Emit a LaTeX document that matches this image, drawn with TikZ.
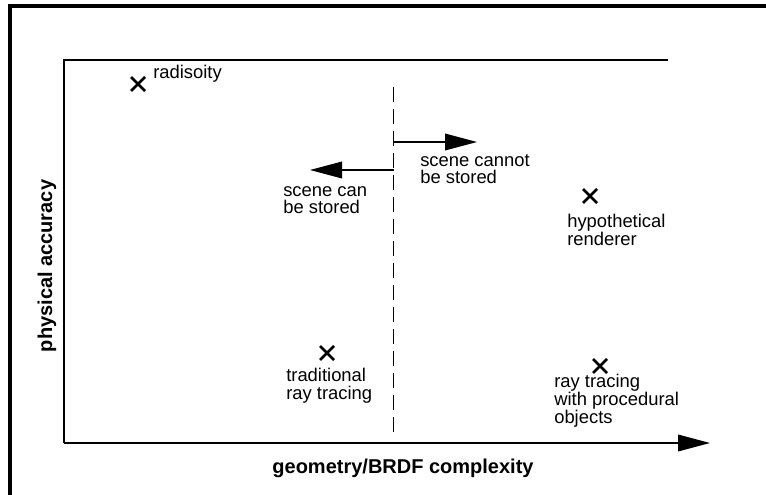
\documentclass[tikz,border=0pt]{standalone}
\usepackage{fontspec}
\setmainfont{Liberation Sans}
\usetikzlibrary{arrows.meta,shapes.misc}
\tikzset{
  lbl/.style={inner sep=0pt, anchor=base west, align=left, font=\fontsize{13.8}{13.2}\selectfont},
  axlbl/.style={inner sep=0pt, anchor=base, font=\fontsize{15}{15}\selectfont\bfseries},
  xmark/.style={cross out, draw, inner sep=0pt, minimum size=8.5pt, line width=2pt},
  frame/.style={line width=1.1pt},
  outerframe/.style={line width=2.6pt},
  bigarrow/.style={line width=1.1pt, -{Triangle[length=24pt,width=12.5pt]}},
  dashline/.style={line width=1.3pt, dash pattern=on 11pt off 5.5pt}
}
\begin{document}
\begin{tikzpicture}[x=0.75pt,y=-0.75pt]
\useasboundingbox (0,0) rectangle (766,495);
\clip (0,0) rectangle (766,495);
% outer frame (only left and top edges visible)
\coordinate (ob) at (10,500);
\coordinate (otl) at (10,6);
\coordinate (otr) at (770,6);
\draw[outerframe] (ob) -- (otl) -- (otr);
% inner frame and axis
\coordinate (itr) at (668,60);
\coordinate (itl) at (64,60);
\coordinate (ibl) at (64,443);
\coordinate (axend) at (710,443);
\draw[frame] (itr) -- (itl) -- (ibl);
\draw[bigarrow] (ibl) -- (axend);
% dashed divider
\coordinate (dtop) at (393.5,87);
\coordinate (dbot) at (393.5,438);
\draw[dashline] (dtop) -- (dbot);
% storage arrows
\coordinate (ra0) at (393.5,142);
\coordinate (ra1) at (477,142);
\draw[bigarrow] (ra0) -- (ra1);
\coordinate (la0) at (393.5,170);
\coordinate (la1) at (310,170);
\draw[bigarrow] (la0) -- (la1);
% labels (anchor = baseline of last line)
\node[lbl] (canstore) at (283,214) {scene can\\be stored};
\node[lbl] (cannotstore) at (420,184) {scene cannot\\be stored};
% points
\node[xmark] (radm) at (138,84) {};
\node[lbl] (radt) at (153,79) {radisoity};
\node[xmark] (hypm) at (590,196) {};
\node[lbl] (hypt) at (567,245) {hypothetical\\renderer};
\node[xmark] (tradm) at (327,353) {};
\node[lbl] (tradt) at (286,399) {traditional\\ray tracing};
\node[xmark] (procm) at (600,366) {};
\node[lbl] (proct) at (554,423) {ray tracing\\with procedural\\objects};
% axis labels
\node[axlbl] (xlab) at (403,473) {geometry/BRDF complexity};
\node[axlbl, rotate=90] (ylab) at (52,266) {physical accuracy};
\end{tikzpicture}
\end{document}
